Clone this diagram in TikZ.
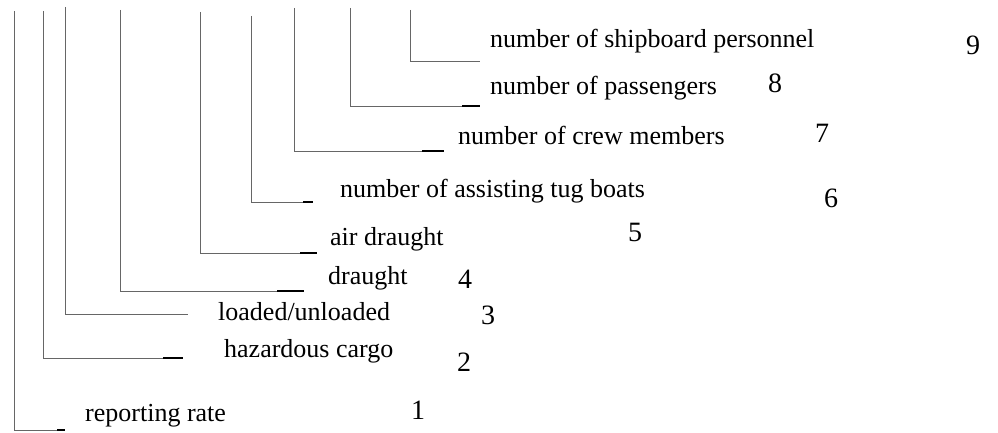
\documentclass[tikz,border=0pt]{standalone}
\usepackage{fontspec}
\setmainfont{Liberation Serif}
\begin{document}
\begin{tikzpicture}[x=1pt,y=-1pt,
    leader/.style={draw=black!60,line width=0.9pt},
    endtick/.style={draw=black,line width=1.1pt},
    lbl/.style={anchor=base west,inner sep=0pt,font=\fontsize{26}{30}\selectfont},
    num/.style={inner sep=0pt,font=\fontsize{28}{32}\selectfont}]
    \useasboundingbox (0,0) rectangle (998,433);
    % labels
    \node[lbl] (l9) at (490,48) {number of shipboard personnel};
    \node[lbl] (l8) at (490,95) {number of passengers};
    \node[lbl] (l7) at (458,145) {number of crew members};
    \node[lbl] (l6) at (340,197) {number of assisting tug boats};
    \node[lbl] (l5) at (330,245) {air draught};
    \node[lbl] (l4) at (328,284) {draught};
    \node[lbl] (l3) at (218,320) {loaded/unloaded};
    \node[lbl] (l2) at (224,357) {hazardous cargo};
    \node[lbl] (l1) at (85,421) {reporting rate};
    % numbers
    \node[num] (n9) at (973,45) {9};
    \node[num] (n8) at (775,83) {8};
    \node[num] (n7) at (822,133) {7};
    \node[num] (n6) at (831,198) {6};
    \node[num] (n5) at (635,232) {5};
    \node[num] (n4) at (465,279) {4};
    \node[num] (n3) at (488,315) {3};
    \node[num] (n2) at (464,362) {2};
    \node[num] (n1) at (418,410) {1};
    % leader lines
    \coordinate (t1) at (14,11);  \coordinate (e1) at (65,430);  \coordinate (k1) at (57,430);
    \coordinate (t2) at (43,11);  \coordinate (e2) at (183,358); \coordinate (k2) at (163,358);
    \coordinate (t3) at (65,7);   \coordinate (e3) at (188,314);
    \coordinate (t4) at (120,10); \coordinate (e4) at (304,291); \coordinate (k4) at (277,291);
    \coordinate (t5) at (200,12); \coordinate (e5) at (317,253); \coordinate (k5) at (300,253);
    \coordinate (t6) at (251,16); \coordinate (e6) at (313,202); \coordinate (k6) at (303,202);
    \coordinate (t7) at (294,8);  \coordinate (e7) at (444,151); \coordinate (k7) at (422,151);
    \coordinate (t8) at (350,8);  \coordinate (e8) at (480,106); \coordinate (k8) at (462,106);
    \coordinate (t9) at (410,10); \coordinate (e9) at (480,61);
    \draw[leader] (t1) |- (e1);
    \draw[leader] (t2) |- (e2);
    \draw[leader] (t3) |- (e3);
    \draw[leader] (t4) |- (e4);
    \draw[leader] (t5) |- (e5);
    \draw[leader] (t6) |- (e6);
    \draw[leader] (t7) |- (e7);
    \draw[leader] (t8) |- (e8);
    \draw[leader] (t9) |- (e9);
    \draw[endtick] (k1) -- (e1);
    \draw[endtick] (k2) -- (e2);
    \draw[endtick] (k4) -- (e4);
    \draw[endtick] (k5) -- (e5);
    \draw[endtick] (k6) -- (e6);
    \draw[endtick] (k7) -- (e7);
    \draw[endtick] (k8) -- (e8);
\end{tikzpicture}
\end{document}
